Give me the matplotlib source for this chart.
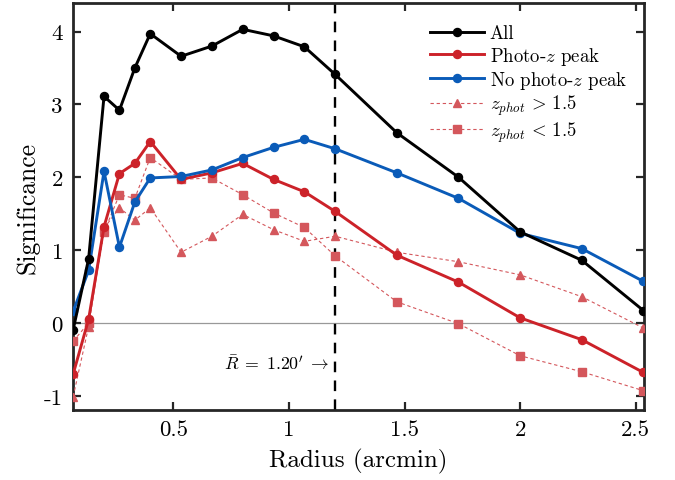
import matplotlib
matplotlib.use("Agg")
import matplotlib.pyplot as plt

plt.rcParams['font.family'] = 'serif'
plt.rcParams['font.serif'] = ['cmr10', 'DejaVu Serif']
plt.rcParams['mathtext.fontset'] = 'cm'
plt.rcParams['axes.formatter.use_mathtext'] = True

radius = [n / 15 for n in [1, 2, 3, 4, 5, 6, 8, 10, 12, 14, 16, 18, 22, 26, 30, 34, 38]]
sig_all = [-0.09, 0.88, 3.11, 2.92, 3.50, 3.97, 3.66, 3.80, 4.03, 3.94, 3.79, 3.41, 2.61, 2.00, 1.25, 0.86, 0.17]
sig_photoz = [-0.70, 0.05, 1.32, 2.05, 2.19, 2.49, 1.97, 2.06, 2.19, 1.97, 1.80, 1.53, 0.93, 0.56, 0.07, -0.23, -0.68]
sig_nophotoz = [0.16, 0.72, 2.08, 1.04, 1.66, 1.99, 2.01, 2.10, 2.27, 2.41, 2.52, 2.39, 2.06, 1.71, 1.23, 1.02, 0.57]
sig_zhigh = [-1.01, -0.05, 1.30, 1.58, 1.41, 1.58, 0.97, 1.19, 1.49, 1.28, 1.12, 1.19, 0.97, 0.84, 0.66, 0.36, -0.07]
sig_zlow = [-0.25, 0.00, 1.25, 1.76, 1.71, 2.27, 1.97, 1.99, 1.76, 1.51, 1.31, 0.92, 0.29, -0.01, -0.45, -0.67, -0.93]

mean_radius = 1.20
xticks = [0.5, 1, 1.5, 2, 2.5]
xticklabels = ['0.5', '1', '1.5', '2', '2.5']
yticks = [-1, 0, 1, 2, 3, 4]
yticklabels = ['-1', '0', '1', '2', '3', '4']

fig = plt.figure(figsize=(6.75, 4.81), dpi=100)
ax = fig.add_axes([0.1077, 0.1455, 0.8468, 0.846])

red = '#cc2229'
blue = '#0a5bb8'
light = '#d4575c'

ax.axhline(0, color='#999999', lw=0.9, zorder=1)
ax.axvline(mean_radius, color='black', lw=1.7, ls=(0, (4.5, 3.5)), zorder=2)

ax.plot(radius, sig_all, '-o', color='black', lw=2.1, ms=5.8, label='All', zorder=5)
ax.plot(radius, sig_photoz, '-o', color=red, lw=2.1, ms=5.8, label='Photo-$z$ peak', zorder=4)
ax.plot(radius, sig_nophotoz, '-o', color=blue, lw=2.1, ms=5.8, label='No photo-$z$ peak', zorder=4)
ax.plot(radius, sig_zhigh, '--^', color=light, lw=0.8, ms=5.8, dashes=(3, 2.5),
        label=r'$z_{phot}\,>\,1.5$', zorder=3)
ax.plot(radius, sig_zlow, '--s', color=light, lw=0.8, ms=5.2, dashes=(3, 2.5),
        label=r'$z_{phot}\,<\,1.5$', zorder=3)

ax.text(1.175, -0.54, r"$\bar{R}\;=\;1.20'\;\rightarrow$", ha='right', va='center', fontsize=12.8)

ax.set_xlim(0.0645, 2.537)
ax.set_ylim(-1.195, 4.39)
ax.set_xticks(xticks)
ax.set_xticklabels(xticklabels)
ax.set_yticks(yticks)
ax.set_yticklabels(yticklabels)
ax.tick_params(direction='in', top=True, right=True, length=6, width=1.6,
               labelsize=16.5, color='#262626', pad=7)
for s in ax.spines.values():
    s.set_linewidth(2)
    s.set_color('#262626')

ax.set_xlabel('Radius (arcmin)', fontsize=18, labelpad=6)
ax.set_ylabel('Significance', fontsize=18.5, labelpad=3)

ax.legend(loc='upper right', frameon=False, fontsize=13.5, handlelength=2.9,
          borderaxespad=0.3, labelspacing=0.12, handletextpad=0.3,
          bbox_to_anchor=(0.993, 0.98))

fig.savefig('out.png', dpi=100)
